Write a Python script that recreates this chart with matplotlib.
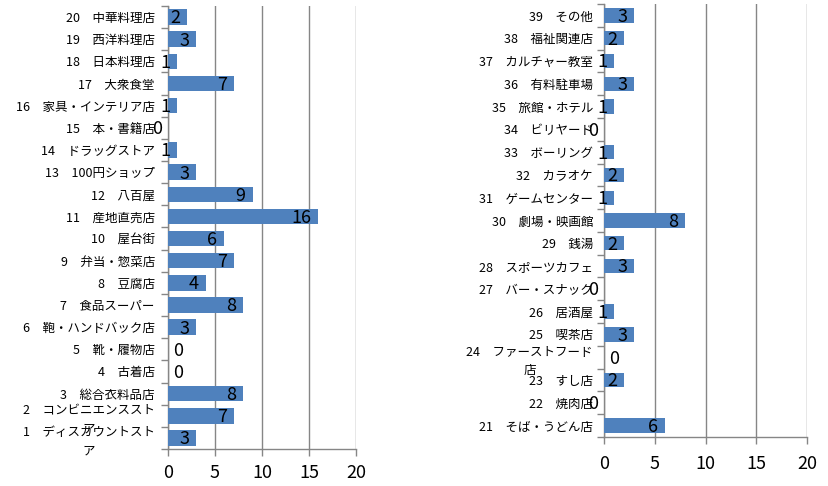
import numpy as np
import matplotlib
matplotlib.use('Agg')
import matplotlib.pyplot as plt
from matplotlib.ticker import FixedLocator

plt.rcParams['font.family'] = ['Noto Sans CJK JP', 'DejaVu Sans']

# left panel: items 1-20
left_names = ['ディスカウントスト\nア', 'コンビニエンススト\nア', '総合衣料品店', '古着店', '靴・履物店',
              '鞄・ハンドバック店', '食品スーパー', '豆腐店', '弁当・惣菜店', '屋台街',
              '産地直売店', '八百屋', '100円ショップ', 'ドラッグストア', '本・書籍店',
              '家具・インテリア店', '大衆食堂', '日本料理店', '西洋料理店', '中華料理店']
left_vals = [3, 7, 8, 0, 0, 3, 8, 4, 7, 6, 16, 9, 3, 1, 0, 1, 7, 1, 3, 2]

# right panel: items 21-39
right_names = ['そば・うどん店', '焼肉店', 'すし店', 'ファーストフード\n店', '喫茶店',
               '居酒屋', 'バー・スナック', 'スポーツカフェ', '銭湯', '劇場・映画館',
               'ゲームセンター', 'カラオケ', 'ボーリング', 'ビリヤード', '旅館・ホテル',
               '有料駐車場', 'カルチャー教室', '福祉関連店', 'その他']
right_vals = [6, 0, 2, 0, 3, 1, 0, 3, 2, 8, 1, 2, 1, 0, 1, 3, 1, 2, 3]

bar_color = '#4F81BD'
grid_color = '#868686'
# zero labels that sit left of the axis in the original
zero_left = {15, 22, 27, 34}

fig = plt.figure(figsize=(8.29, 4.86), dpi=100)


def draw_panel(rect, start, names, vals, bar_h, pad, tick_y):
    ax = fig.add_axes(rect)
    n = len(vals)
    y = np.arange(n)
    ax.barh(y, vals, height=bar_h, color=bar_color, zorder=3)
    labels = ['%d\u3000%s' % (start + i, nm) for i, nm in enumerate(names)]
    ax.set_yticks(y)
    ax.set_yticklabels(labels, fontsize=9, multialignment='center', linespacing=1.55)
    ax.yaxis.set_minor_locator(FixedLocator(np.arange(-0.5, n, 1.0)))
    ax.tick_params(axis='y', which='major', length=0, pad=pad)
    ax.tick_params(axis='y', which='minor', length=5, color=grid_color, width=1)
    ax.set_ylim(-0.5, n - 0.5)
    ax.set_xlim(0, 20)
    ax.set_xticks([0, 5, 10, 15, 20])
    ax.tick_params(axis='x', length=5, color=grid_color, width=1, labelsize=13, pad=tick_y)
    ax.grid(axis='x', color=grid_color, linewidth=1, zorder=0)
    for s in ['top', 'right']:
        ax.spines[s].set_visible(False)
    for s in ['left', 'bottom']:
        ax.spines[s].set_color(grid_color)
        ax.spines[s].set_linewidth(1)
    for i, (yi, v) in enumerate(zip(y, vals)):
        if v == 0:
            dx = -8 if (start + i) in zero_left else 7
            ax.annotate(str(v), (0, yi), xytext=(dx, -1), textcoords='offset points',
                        ha='center', va='center', fontsize=13, zorder=4)
        else:
            ax.annotate(str(v), (v, yi), xytext=(-5, -1), textcoords='offset points',
                        ha='right', va='center', fontsize=13, zorder=4)
    return ax


draw_panel([168 / 829, 1 - 449 / 486, 188 / 829, 443 / 486], 1, left_names, left_vals, 0.7, 9.5, 6)
draw_panel([604 / 829, 1 - 437 / 486, 203 / 829, 433 / 486], 21, right_names, right_vals, 0.63, 8, 8)

fig.savefig('out.png', dpi=100)
